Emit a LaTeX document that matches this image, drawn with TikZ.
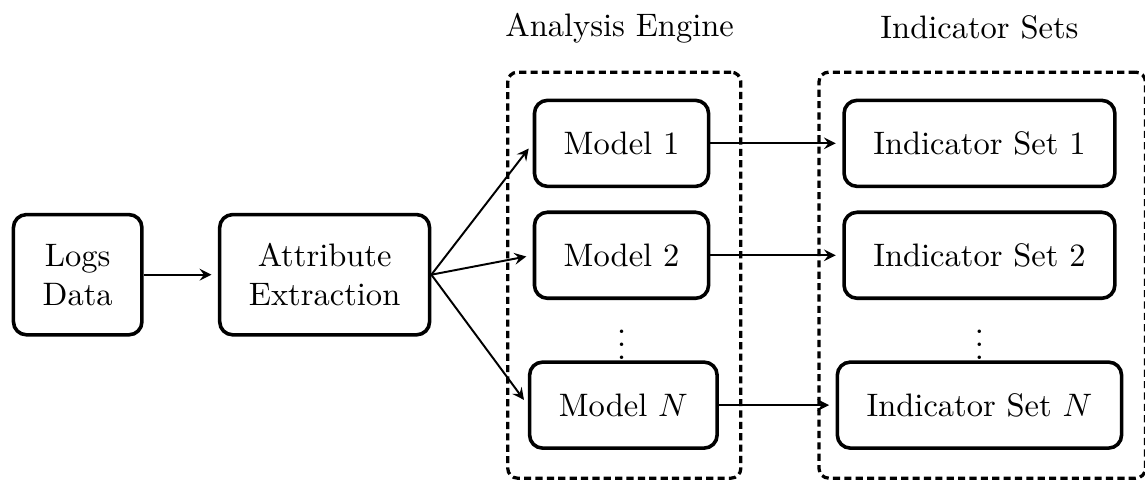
\documentclass[tikz,border=0pt]{standalone}
\usepackage{amsmath}
\usepackage{tikz}
\usetikzlibrary{shapes,arrows,positioning,calc}

\begin{document}
\begin{tikzpicture}[
    box/.style={rectangle, draw=black, rounded corners=4pt, align=center,
                inner xsep=9pt, minimum height=0.93cm, line width=1.1pt},
    bigbox/.style={box, minimum height=1.3cm},
    group/.style={rectangle, draw=black, rounded corners=3pt, line width=1pt,
                  dash pattern=on 2.2pt off 1.3pt},
    arrow/.style={->, >=stealth, line width=0.6pt, shorten >=2pt}
]
    \useasboundingbox (0,0) rectangle (12.38,-5.19);

    % dashed groups
    \node[group, minimum width=2.52cm, minimum height=4.39cm] (engine) at (6.75,-2.975) {};
    \node[group, minimum width=3.53cm, minimum height=4.39cm] (sets) at (10.62,-2.975) {};
    \node (enginelabel) at (6.70,-0.30) {Analysis Engine};
    \node (setslabel) at (10.59,-0.30) {Indicator Sets};

    \node[bigbox] (logs) at (0.84,-2.97) {Logs\\Data};
    \node[bigbox] (attr) at (3.51,-2.97) {Attribute\\Extraction};

    \node[box] (model1) at (6.72,-1.55) {Model 1};
    \node[box] (model2) at (6.72,-2.76) {Model 2};
    \node[inner sep=0pt] (mdots) at (6.72,-3.62) {$\vdots$};
    \node[box] (modelN) at (6.74,-4.38) {Model $N$};

    \node[box] (ind1) at (10.59,-1.55) {Indicator Set 1};
    \node[box] (ind2) at (10.59,-2.76) {Indicator Set 2};
    \node[inner sep=0pt] (idots) at (10.59,-3.62) {$\vdots$};
    \node[box] (indN) at (10.59,-4.38) {Indicator Set $N$};

    \draw[arrow] (logs) -- (attr);
    \draw[arrow] (attr.east) -- (model1.west);
    \draw[arrow] (attr.east) -- (model2.west);
    \draw[arrow] (attr.east) -- (modelN.west);

    \draw[arrow] (model1) -- (ind1);
    \draw[arrow] (model2) -- (ind2);
    \draw[arrow] (modelN) -- (indN);
\end{tikzpicture}
\end{document}
